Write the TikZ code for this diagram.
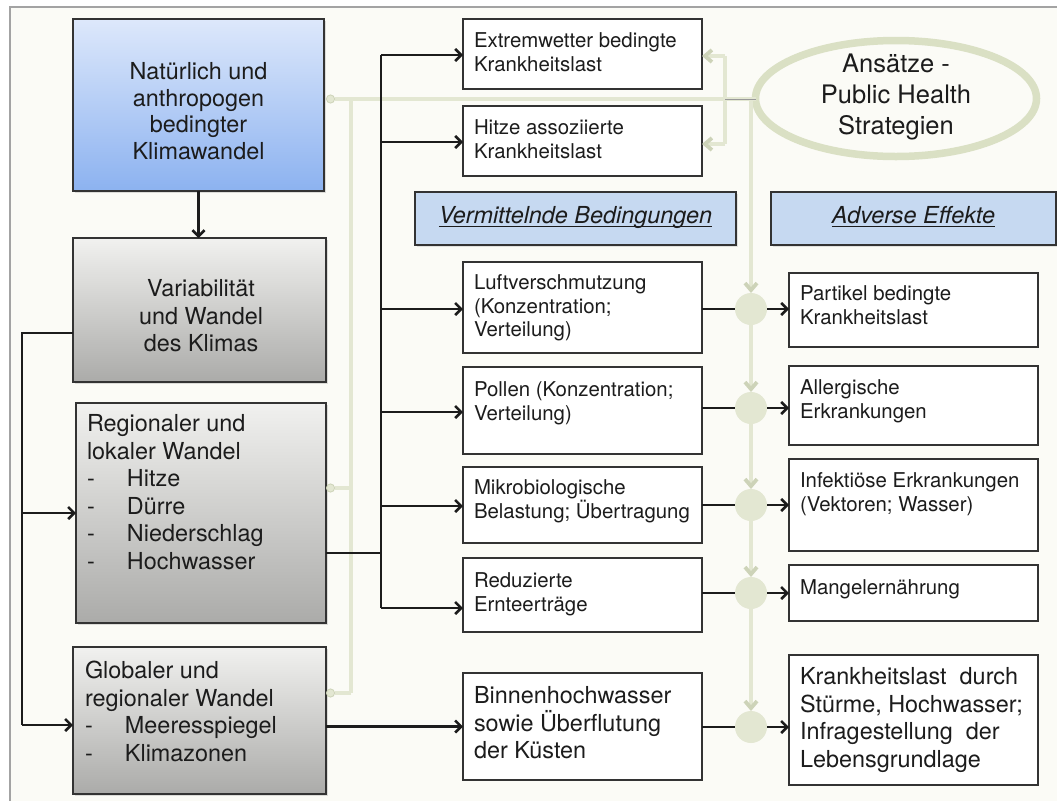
\documentclass[tikz,border=0pt]{standalone}
\usepackage{fontspec}
\setmainfont{TeX Gyre Heros}
\usetikzlibrary{arrows.meta,shapes.geometric,shadows}

\definecolor{paper}{HTML}{FBFBF6}
\definecolor{framegray}{HTML}{A3A3A3}
\definecolor{ink}{HTML}{1C1C1C}
\definecolor{boxline}{HTML}{333333}
\definecolor{bluetop}{HTML}{DDE8FB}
\definecolor{bluebot}{HTML}{8CB2F0}
\definecolor{graytop}{HTML}{F1F1EF}
\definecolor{graybot}{HTML}{ABABA9}
\definecolor{headfill}{HTML}{C6D9F1}
\definecolor{sage}{HTML}{E3E7D2}
\definecolor{sagedark}{HTML}{CDD3B8}
\definecolor{ringcol}{HTML}{DAE0C4}

\newcommand\fsmall{\fontsize{20.4}{23.5}\selectfont}
\newcommand\fbig{\fontsize{23.4}{27.5}\selectfont}
\newcommand\fnat{\fontsize{23.4}{26.5}\selectfont}
\newcommand\fring{\fontsize{25.5}{31}\selectfont}
\newcommand\itm[1]{\makebox[40pt][l]{-}#1}
% fixed height for the first line, so that a text block's top sits 0.9em above its first baseline
\newcommand\ts{\rule{0pt}{0.9em}}
% underline drawn just below the baseline, crossing the descenders
\newlength\ulwd
\newcommand\ulin[1]{\settowidth\ulwd{#1}\rlap{\rule[-3.7pt]{\ulwd}{1.2pt}}#1}

\begin{document}
\begin{tikzpicture}[x=1pt,y=-1pt,
  every node/.style={inner sep=0pt,outer sep=0pt,text=ink},
  sz/.style 2 args={minimum width=#1,minimum height=#2},
  wbox/.style={draw=boxline,line width=1.6pt,fill=white,anchor=north west},
  gbox/.style={draw=boxline,line width=1.6pt,top color=graytop,bottom color=graybot,anchor=north west,
    drop shadow={opacity=0.25,shadow xshift=1.5pt,shadow yshift=-1.5pt}},
  bbox/.style={draw=boxline,line width=1.6pt,top color=bluetop,bottom color=bluebot,anchor=north west,
    drop shadow={opacity=0.25,shadow xshift=1.5pt,shadow yshift=-1.5pt}},
  hbox/.style={draw=boxline,line width=1.6pt,fill=headfill,anchor=north west,
    drop shadow={opacity=0.2,shadow xshift=1.5pt,shadow yshift=-1.5pt}},
  txt/.style={anchor=north west,align=left},
  ctxt/.style={anchor=north,align=center},
  blkline/.style={draw=ink,line width=2.6pt},
  blk/.style={blkline,-{Straight Barb[length=6pt,width=12pt]}},
  sageline/.style={draw=sage,line width=3.8pt},
  sagearrow/.style={sageline,-{Straight Barb[length=7pt,width=12pt,color=sagedark]}},
  sagedot/.style={sageline,{Circle[length=9pt,fill=sage,color=sagedark,line width=0.8pt]}-},
  sagedotend/.style={sageline,-{Circle[length=9pt,fill=sage,color=sagedark,line width=0.8pt]}},
  hub/.style={circle,fill=sage,minimum size=32}
]
\useasboundingbox (0,0) rectangle (1057,801);
% page and frame
\fill[white] (0,0) rectangle (1057,801);
\fill[paper] (10,7) rectangle (1057,801);
\draw[framegray,line width=1.5pt] (10,801) -- (10,7) -- (1057,7);

% left column
\node[bbox,sz={251}{172}] (nat) at (73,19) {};
\node[ctxt,font=\fnat] (nat-t) at (198.5,58.9) {\ts Natürlich und\\anthropogen\\bedingter\\Klimawandel};
\node[gbox,sz={253}{144}] (var) at (73,238) {};
\node[ctxt,font=\fbig] (var-t) at (201,275.9) {\ts Variabilität\\und Wandel\\des Klimas};
\node[gbox,sz={250}{220}] (reg) at (76,403) {};
\node[txt,font=\fbig] (reg-t) at (87,410.9) {\ts Regionaler und\\lokaler Wandel\\\itm{Hitze}\\\itm{Dürre}\\\itm{Niederschlag}\\\itm{Hochwasser}};
\node[gbox,sz={253}{147}] (glo) at (73,647) {};
\node[txt,font=\fbig] (glo-t) at (85,657.9) {\ts Globaler und\\regionaler Wandel\\\itm{Meeresspiegel}\\\itm{Klimazonen}};

% middle column
\node[wbox,sz={239}{70}] (ext) at (463,19) {};
\node[txt,font=\fsmall] (ext-t) at (474,29.6) {\ts Extremwetter bedingte\\Krankheitslast};
\node[wbox,sz={239}{70}] (hit) at (463,106) {};
\node[txt,font=\fsmall] (hit-t) at (474,116.6) {\ts Hitze assoziierte\\Krankheitslast};
\node[hbox,sz={321}{53}] (hvm) at (415,192) {};
\node[anchor=base,font=\fbig\itshape] (hvm-t) at (575.5,223) {\ulin{Vermittelnde Bedingungen}};
\node[wbox,sz={239}{91}] (luf) at (463,262) {};
\node[txt,font=\fsmall] (luf-t) at (474,271.6) {\ts Luftverschmutzung\\(Konzentration;\\Verteilung)};
\node[wbox,sz={239}{87}] (pol) at (463,367) {};
\node[txt,font=\fsmall] (pol-t) at (474,378.6) {\ts Pollen (Konzentration;\\Verteilung)};
\node[wbox,sz={239}{76}] (mik) at (463,467) {};
\node[txt,font=\fsmall] (mik-t) at (474,476.6) {\ts Mikrobiologische\\Belastung; Übertragung};
\node[wbox,sz={239}{74}] (red) at (463,558) {};
\node[txt,font=\fsmall] (red-t) at (474,569.6) {\ts Reduzierte\\Ernteerträge};
\node[wbox,sz={239}{107}] (bin) at (463,673) {};
\node[txt,font=\fbig] (bin-t) at (474,682.9) {\ts Binnenhochwasser\\sowie Überflutung\\der Küsten};

% right column
\node[ellipse,draw=ringcol,line width=7.5pt,fill=paper,sz={281}{116}] (ring) at (896,98.5) {};
\node[ctxt,font=\fring] (ring-t) at (896,50) {\ts Ansätze -\\Public Health\\Strategien};
\node[hbox,sz={285}{53}] (hae) at (771,192) {};
\node[anchor=base,font=\fbig\itshape] (hae-t) at (913.5,223) {\ulin{Adverse Effekte}};
\node[wbox,sz={249}{74}] (par) at (789,273) {};
\node[txt,font=\fsmall] (par-t) at (800,282.6) {\ts Partikel bedingte\\Krankheitslast};
\node[wbox,sz={249}{79}] (all) at (789,366) {};
\node[txt,font=\fsmall] (all-t) at (800,376.6) {\ts Allergische\\Erkrankungen};
\node[wbox,sz={249}{92}] (inf) at (789,459) {};
\node[txt,font=\fsmall] (inf-t) at (800,469.6) {\ts Infektiöse Erkrankungen\\(Vektoren; Wasser)};
\node[wbox,sz={249}{56}] (man) at (789,565) {};
\node[txt,font=\fsmall] (man-t) at (800,576.6) {\ts Mangelernährung};
\node[wbox,sz={249}{130}] (kra) at (789,655) {};
\node[txt,font=\fbig] (kra-t) at (800,663.9) {\ts Krankheitslast\ \ durch\\Stürme, Hochwasser;\\Infragestellung\ \ der\\Lebensgrundlage};

% junction hubs
\node[hub] (c1) at (751,309) {};
\node[hub] (c2) at (751,408) {};
\node[hub] (c3) at (751,505) {};
\node[hub] (c4) at (751,593) {};
\node[hub] (c5) at (751,727) {};

% routing points
\coordinate (natout) at (326,99);
\coordinate (sv1) at (351,99);
\coordinate (sv2) at (351,693);
\coordinate (sv3) at (351,488);
\coordinate (rv) at (751,99);
\coordinate (br) at (725,99);
\coordinate (brt) at (725,56);
\coordinate (brb) at (725,144);
\coordinate (lt) at (22,333);
\coordinate (lm) at (22,513);
\coordinate (lb) at (22,725);
\coordinate (b1) at (381,55);
\coordinate (b2) at (381,142);
\coordinate (b3) at (381,309);
\coordinate (b4) at (381,412);
\coordinate (b5) at (381,506);
\coordinate (b6) at (381,608);
\coordinate (bin-in) at (381,553);

% strategy links
\draw[sagedot] (natout) -- (natout -| ring.west);
\draw[sageline] (sv1) -- (sv2);
\draw[sagedotend] (sv2) -- (sv2 -| glo.east);
\draw[sagedotend] (sv3) -- (sv3 -| reg.east);
\draw[sageline] (brt) -- (brb);
\draw[sagearrow] (brt) -- (brt -| ext.east);
\draw[sagearrow] (brb) -- (brb -| hit.east);
\draw[sagearrow] (rv) -- (c1);
\draw[sagearrow] (c1) -- (c2);
\draw[sagearrow] (c2) -- (c3);
\draw[sagearrow] (c3) -- (c4);
\draw[sagearrow] (c4) -- (c5);
\draw[draw=gray!80,line width=1pt] (br) -- (br -| ring.west);

% causal chain
\draw[blk] (nat.south) -- (nat.south |- var.north);
\draw[blkline] (lt -| var.west) -- (lt) -- (lb);
\draw[blk] (lm) -- (lm -| reg.west);
\draw[blk] (lb) -- (lb -| glo.west);
\draw[blkline] (bin-in -| reg.east) -- (bin-in);
\draw[blkline] (b1) -- (b6);
\draw[blk] (b1) -- (b1 -| ext.west);
\draw[blk] (b2) -- (b2 -| hit.west);
\draw[blk] (b3) -- (b3 -| luf.west);
\draw[blk] (b4) -- (b4 -| pol.west);
\draw[blk] (b5) -- (b5 -| mik.west);
\draw[blk] (b6) -- (b6 -| red.west);
\draw[blk] (glo.east |- bin.west) -- (bin.west);

% effects through the hubs
\draw[blkline] (c1 -| luf.east) -- (c1);
\draw[blk] (c1) -- (c1 -| par.west);
\draw[blkline] (c2 -| pol.east) -- (c2);
\draw[blk] (c2) -- (c2 -| all.west);
\draw[blkline] (c3 -| mik.east) -- (c3);
\draw[blk] (c3) -- (c3 -| inf.west);
\draw[blkline] (c4 -| red.east) -- (c4);
\draw[blk] (c4) -- (c4 -| man.west);
\draw[blkline] (c5 -| bin.east) -- (c5);
\draw[blk] (c5) -- (c5 -| kra.west);
\end{tikzpicture}
\end{document}
